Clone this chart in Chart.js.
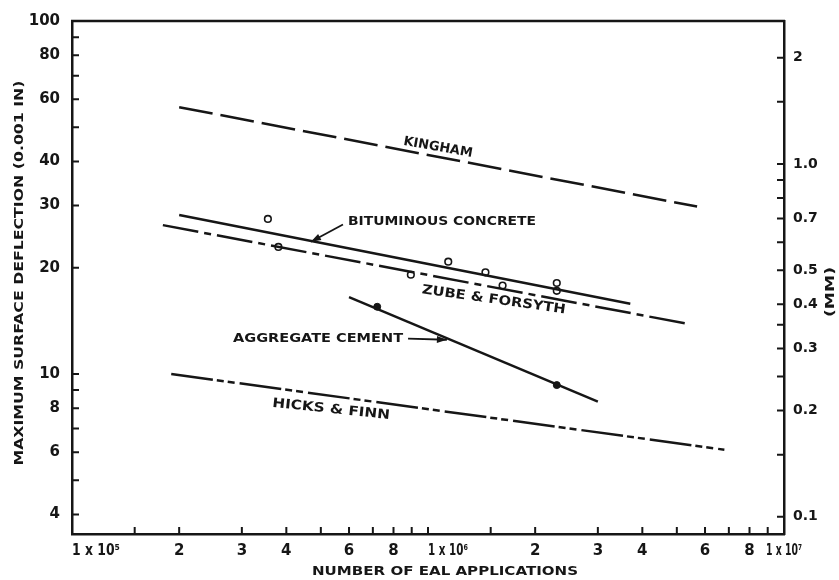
<!DOCTYPE html>
<html>
<head>
<meta charset="utf-8">
<script src="https://cdn.jsdelivr.net/npm/chart.js@4.4.0/dist/chart.umd.min.js"></script>
<style>html,body{margin:0;padding:0;background:#fff;}</style>
</head>
<body>
<canvas id="chart" width="839" height="580"></canvas>
<script>
'use strict';

// x = number of EAL applications, y = max surface deflection (0.001 in)
const kinghamX = [2.0e5, 5.7e6];
const kinghamY = [57, 29.8];
const bitumX = [2.0e5, 3.7e6];
const bitumY = [28.2, 15.8];
const zubeX = [1.8e5, 5.3e6];
const zubeY = [26.4, 13.9];
const aggX = [6.0e5, 3.0e6];
const aggY = [16.5, 8.35];
const hicksX = [1.9e5, 6.8e6];
const hicksY = [10.0, 6.1];

// measured points
const bitumPtX = [3.55e5, 3.8e5, 8.95e5, 1.14e6, 1.45e6, 1.62e6, 2.3e6, 2.3e6];
const bitumPtY = [27.5, 22.9, 19.1, 20.8, 19.4, 17.8, 18.1, 17.2];
const aggPtX = [7.2e5, 2.3e6];
const aggPtY = [15.5, 9.3];

// axes
const X_MIN = 1e5, X_MAX = 1e7;
const Y_MIN = 3.52, Y_MAX = 100;
const IN_TO_MM = 0.0254;

const xTickVals = [1.5e5, 2e5, 3e5, 4e5, 5e5, 6e5, 7e5, 8e5, 9e5, 1e6, 1.5e6, 2e6, 3e6, 4e6, 5e6, 6e6, 7e6, 8e6, 9e6];
const xLabelVals = [1e5, 2e5, 3e5, 4e5, 6e5, 8e5, 1e6, 2e6, 3e6, 4e6, 6e6, 8e6, 1e7];
const xLabelText = ['1 x 10\u2075', '2', '3', '4', '6', '8', '1 x 10\u2076', '2', '3', '4', '6', '8', '1 x 10\u2077'];

const yTickVals = [4, 5, 6, 7, 8, 9, 10, 20, 30, 40, 50, 60, 70, 80, 90];
const yLabelVals = [4, 6, 8, 10, 20, 30, 40, 60, 80, 100];
const yLabelText = ['4', '6', '8', '10', '20', '30', '40', '60', '80', '100'];

const mmTickVals = [0.1, 0.15, 0.2, 0.25, 0.3, 0.35, 0.4, 0.5, 0.6, 0.7, 0.8, 0.9, 1.0, 1.5, 2];
const mmLabelVals = [0.1, 0.2, 0.3, 0.4, 0.5, 0.7, 1.0, 2];
const mmLabelText = ['0.1', '0.2', '0.3', '0.4', '0.5', '0.7', '1.0', '2'];

// annotation anchors in data coords
const notes = [
  { text: 'KINGHAM', x: 1.067e6, y: 43.8, w: 70, rot: 10 },
  { text: 'BITUMINOUS CONCRETE', x: 1.095e6, y: 27.0, w: 188, rot: 0 },
  { text: 'ZUBE & FORSYTH', x: 1.53e6, y: 16.2, w: 145, rot: 8 },
  { text: 'AGGREGATE CEMENT', x: 4.91e5, y: 12.6, w: 170, rot: 0 },
  { text: 'HICKS & FINN', x: 5.34e5, y: 7.93, w: 118, rot: 6 }
];
const arrows = [
  { from: [5.77e5, 26.5], to: [4.69e5, 23.7] },
  { from: [8.79e5, 12.6], to: [1.13e6, 12.5] }
];

const INK = '#161616';
const FONT = '"DejaVu Sans", sans-serif';

const pts = (xs, ys) => xs.map((x, i) => ({ x, y: ys[i] }));
const lineSet = (label, xs, ys, dash) => ({
  label, data: pts(xs, ys), showLine: true, borderColor: INK, borderWidth: 2.5,
  borderDash: dash, pointRadius: 0, fill: false
});

function fitText(ctx, str, cx, cy, width, rot, font) {
  ctx.save();
  ctx.font = font;
  ctx.translate(cx, cy);
  ctx.rotate(rot * Math.PI / 180);
  const w = ctx.measureText(str).width;
  if (width) ctx.scale(width / w, 1);
  ctx.textAlign = 'center';
  ctx.textBaseline = 'middle';
  ctx.fillText(str, 0, 0);
  ctx.restore();
}

const deco = {
  id: 'deco',
  afterDraw(chart) {
    const { ctx, chartArea: a } = chart;
    const sx = chart.scales.x, sy = chart.scales.y, sm = chart.scales.y2;
    ctx.save();
    ctx.strokeStyle = INK;
    ctx.fillStyle = INK;

    // top frame line
    ctx.lineWidth = 2.5;
    ctx.beginPath();
    ctx.moveTo(a.left - 1, a.top);
    ctx.lineTo(a.right + 1, a.top);
    ctx.stroke();

    // inward tick marks
    ctx.lineWidth = 2;
    ctx.beginPath();
    xTickVals.forEach(v => {
      const p = sx.getPixelForValue(v);
      ctx.moveTo(p, a.bottom); ctx.lineTo(p, a.bottom - 7);
    });
    yTickVals.forEach(v => {
      const p = sy.getPixelForValue(v);
      ctx.moveTo(a.left, p); ctx.lineTo(a.left + 7, p);
    });
    mmTickVals.forEach(v => {
      const p = sm.getPixelForValue(v);
      ctx.moveTo(a.right, p); ctx.lineTo(a.right - 7, p);
    });
    ctx.stroke();

    // x tick labels
    const last = xLabelVals.length - 1;
    xLabelVals.forEach((v, i) => {
      const p = sx.getPixelForValue(v);
      const t = xLabelText[i];
      if (i === 0) fitText(ctx, t, p + 24, 551, 48, 0, 'bold 15px ' + FONT);
      else if (i === last) fitText(ctx, t, p, 551, 36, 0, 'bold 15px ' + FONT);
      else if (t.length > 1) fitText(ctx, t, p + 20, 551, 40, 0, 'bold 15px ' + FONT);
      else fitText(ctx, t, p, 551, 0, 0, 'bold 15px ' + FONT);
    });

    // axis titles
    fitText(ctx, 'NUMBER OF EAL APPLICATIONS', 445, 572, 266, 0, 'bold 13px ' + FONT);
    fitText(ctx, 'MAXIMUM SURFACE DEFLECTION (0.001 IN)', 20, 273, 385, -90, 'bold 13px ' + FONT);
    fitText(ctx, '(MM)', 831, 292, 50, -90, 'bold 12px ' + FONT);

    // curve names
    notes.forEach(n => {
      fitText(ctx, n.text, sx.getPixelForValue(n.x), sy.getPixelForValue(n.y), n.w, n.rot, 'bold 13px ' + FONT);
    });

    // arrows
    arrows.forEach(ar => {
      const x1 = sx.getPixelForValue(ar.from[0]), y1 = sy.getPixelForValue(ar.from[1]);
      const x2 = sx.getPixelForValue(ar.to[0]), y2 = sy.getPixelForValue(ar.to[1]);
      const ang = Math.atan2(y2 - y1, x2 - x1);
      ctx.lineWidth = 1.8;
      ctx.beginPath();
      ctx.moveTo(x1, y1); ctx.lineTo(x2, y2);
      ctx.stroke();
      ctx.beginPath();
      ctx.moveTo(x2, y2);
      ctx.lineTo(x2 - 10 * Math.cos(ang) + 3.5 * Math.sin(ang), y2 - 10 * Math.sin(ang) - 3.5 * Math.cos(ang));
      ctx.lineTo(x2 - 10 * Math.cos(ang) - 3.5 * Math.sin(ang), y2 - 10 * Math.sin(ang) + 3.5 * Math.cos(ang));
      ctx.closePath();
      ctx.fill();
    });
    ctx.restore();
  }
};

new Chart(document.getElementById('chart'), {
  type: 'scatter',
  data: {
    datasets: [
      lineSet('Kingham', kinghamX, kinghamY, [34, 8]),
      lineSet('Bituminous concrete', bitumX, bitumY, []),
      lineSet('Zube & Forsyth', zubeX, zubeY, [36, 6, 7, 6]),
      lineSet('Aggregate cement', aggX, aggY, []),
      lineSet('Hicks & Finn', hicksX, hicksY, [42, 4, 7, 4, 7, 5]),
      {
        label: 'Bituminous data', data: pts(bitumPtX, bitumPtY), showLine: false,
        pointRadius: 3.3, pointBorderWidth: 1.6, pointBorderColor: INK, pointBackgroundColor: '#fff'
      },
      {
        label: 'Aggregate data', data: pts(aggPtX, aggPtY), showLine: false,
        pointRadius: 3.5, pointBorderWidth: 1, pointBorderColor: INK, pointBackgroundColor: INK
      }
    ]
  },
  options: {
    responsive: false,
    animation: false,
    layout: { padding: { top: 15, left: 0, right: 0, bottom: 0 } },
    plugins: { legend: { display: false }, tooltip: { enabled: false } },
    scales: {
      x: {
        type: 'logarithmic', min: X_MIN, max: X_MAX,
        grid: { display: false, drawTicks: false },
        border: { display: true, color: INK, width: 2.5 },
        ticks: { display: false },
        afterFit: s => { s.height = 46; }
      },
      y: {
        type: 'logarithmic', position: 'left', min: Y_MIN, max: Y_MAX,
        grid: { display: false, drawTicks: false },
        border: { display: true, color: INK, width: 2.5 },
        afterBuildTicks: s => { s.ticks = yLabelVals.map(v => ({ value: v })); },
        ticks: {
          autoSkip: false, padding: 12, color: INK,
          font: { family: FONT, size: 15, weight: 'bold' },
          callback: (v, i) => yLabelText[i]
        },
        afterFit: s => { s.width = 72; }
      },
      y2: {
        type: 'logarithmic', position: 'right', min: Y_MIN * IN_TO_MM, max: Y_MAX * IN_TO_MM,
        grid: { display: false, drawTicks: false },
        border: { display: true, color: INK, width: 2.5 },
        afterBuildTicks: s => { s.ticks = mmLabelVals.map(v => ({ value: v })); },
        ticks: {
          autoSkip: false, padding: 9, color: INK,
          font: { family: FONT, size: 14, weight: 'bold' },
          callback: (v, i) => mmLabelText[i]
        },
        afterFit: s => { s.width = 55; }
      }
    }
  },
  plugins: [deco]
});
</script>
</body>
</html>
